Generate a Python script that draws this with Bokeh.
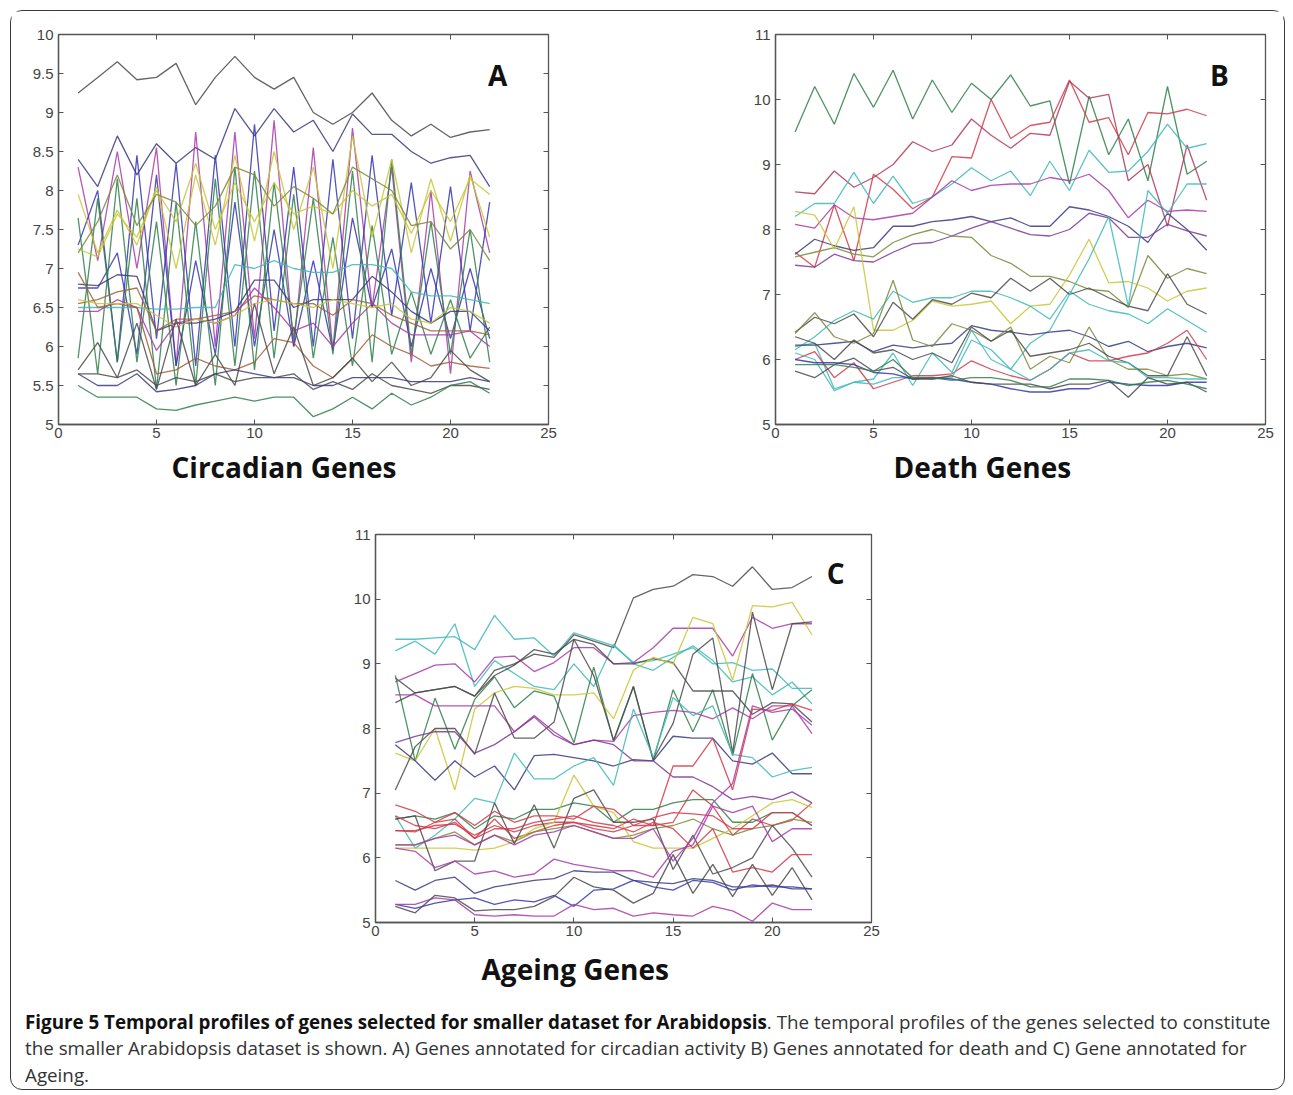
from bokeh.plotting import figure
from bokeh.layouts import column, row
from bokeh.models import (Div, Label, LinearAxis, FixedTicker, CustomJSTickFormatter, Range1d, Title)
from bokeh.embed import file_html
from bokeh.resources import INLINE

# ---------------- data ----------------
timepoints = [1, 2, 3, 4, 5, 6, 7, 8, 9, 10, 11, 12, 13, 14, 15, 16, 17, 18, 19, 20, 21, 22]

x_ticks = [0, 5, 10, 15, 20, 25]
a_y_ticks = [5, 5.5, 6, 6.5, 7, 7.5, 8, 8.5, 9, 9.5, 10]
bc_y_ticks = [5, 6, 7, 8, 9, 10, 11]

BLUE = "#3535b0"
GREEN = "#2f7f4a"
RED = "#d23a48"
CYAN = "#3fb8b8"
MAGENTA = "#a83aa8"
YELLOW = "#c9c634"
GRAY = "#4a4a4a"
NAVY = "#3a3a80"
OLIVE = "#7a8a3a"
BROWN = "#a0603a"

# Panel A - circadian genes
a_top = [9.25, 9.45, 9.65, 9.42, 9.45, 9.63, 9.1, 9.45, 9.72, 9.45, 9.3, 9.45, 9.0, 8.85, 9.0, 9.25, 8.9, 8.7, 8.85, 8.68, 8.75, 8.78]
a_navy_high = [8.4, 8.05, 8.7, 8.2, 8.6, 8.35, 8.55, 8.4, 9.05, 8.7, 9.05, 8.75, 8.9, 8.5, 8.98, 8.72, 8.72, 8.5, 8.35, 8.42, 8.45, 8.05]
a_magenta_zig = [8.3, 7.1, 8.5, 7.0, 8.55, 5.75, 8.75, 6.0, 8.75, 6.1, 8.9, 6.0, 8.55, 5.95, 8.8, 6.5, 8.3, 5.8, 8.0, 5.65, 8.25, 7.2]
a_blue_zig = [7.3, 8.0, 5.8, 8.45, 6.1, 8.35, 5.75, 8.45, 6.0, 8.85, 6.2, 8.3, 6.0, 8.4, 6.1, 8.45, 6.4, 8.1, 6.3, 8.05, 6.2, 7.85]
a_blue_zig2 = [6.75, 6.75, 7.2, 5.9, 8.2, 5.75, 7.1, 5.9, 7.85, 6.0, 7.5, 6.0, 7.1, 5.95, 7.65, 6.5, 7.25, 6.0, 7.0, 6.1, 7.0, 6.1]
a_green_zig = [5.85, 7.9, 5.8, 7.9, 5.45, 7.85, 5.5, 8.15, 5.75, 8.25, 5.85, 7.95, 5.85, 7.4, 5.75, 7.55, 5.9, 6.7, 5.9, 6.6, 5.85, 6.25]
a_green_zig2 = [7.65, 5.65, 8.15, 5.8, 7.6, 5.5, 7.6, 5.5, 8.3, 5.7, 8.1, 6.1, 7.9, 5.9, 8.25, 5.8, 8.4, 5.9, 7.6, 5.9, 7.5, 5.8]
a_yellow_zig = [7.95, 7.2, 7.75, 7.3, 8.05, 7.0, 8.2, 7.3, 8.45, 7.35, 8.5, 7.5, 8.3, 7.0, 8.7, 7.4, 8.4, 7.2, 8.15, 7.35, 8.2, 7.4]
a_yellow = [7.25, 7.15, 7.7, 7.4, 8.0, 7.6, 8.35, 7.5, 8.1, 7.6, 8.1, 7.7, 7.8, 7.7, 8.0, 7.8, 7.95, 7.45, 8.0, 7.6, 8.15, 7.95]
a_olive = [7.2, 7.6, 8.2, 7.55, 7.95, 7.85, 7.55, 7.8, 8.3, 8.2, 7.8, 8.05, 7.9, 7.7, 8.3, 8.15, 8.0, 7.55, 7.6, 7.25, 7.5, 7.1]
a_cyan = [6.5, 6.5, 6.5, 6.5, 6.48, 6.48, 6.5, 6.5, 7.05, 7.0, 7.1, 7.0, 6.95, 6.95, 7.05, 7.05, 7.0, 6.7, 6.65, 6.65, 6.6, 6.55]
a_navy_mid = [6.8, 6.78, 6.92, 6.9, 6.2, 6.3, 6.3, 6.35, 6.45, 6.85, 6.85, 6.5, 6.6, 6.6, 6.6, 6.9, 6.7, 6.45, 6.3, 6.45, 6.45, 6.2]
a_brown = [6.55, 6.6, 6.7, 6.75, 6.2, 6.35, 6.35, 6.4, 6.45, 6.65, 6.6, 6.55, 6.55, 6.4, 6.6, 6.55, 6.4, 6.3, 6.2, 6.2, 6.2, 6.15]
a_rose = [6.45, 6.45, 6.6, 6.5, 5.95, 6.3, 6.35, 6.3, 6.4, 6.75, 6.5, 6.2, 6.3, 6.0, 6.3, 6.55, 6.3, 6.15, 6.15, 6.15, 6.2, 6.0]
a_red_low = [6.95, 6.5, 6.55, 6.5, 5.65, 5.7, 5.85, 5.75, 5.7, 5.8, 6.1, 6.05, 5.75, 5.6, 5.85, 6.15, 6.0, 5.9, 5.75, 5.8, 5.75, 5.72]
a_olive_mid = [6.6, 6.55, 6.55, 6.55, 6.4, 6.25, 6.35, 6.3, 6.4, 6.55, 6.6, 6.55, 6.5, 6.6, 6.55, 6.5, 6.55, 6.35, 6.3, 6.5, 6.45, 6.3]
a_gray_zig = [5.7, 6.05, 5.6, 6.3, 5.45, 6.35, 5.5, 5.9, 5.5, 6.55, 5.65, 6.25, 5.5, 5.6, 5.85, 5.55, 5.8, 5.5, 5.6, 5.95, 5.7, 5.55]
a_navy_low = [5.65, 5.5, 5.5, 5.65, 5.42, 5.45, 5.5, 5.65, 5.7, 5.65, 5.6, 5.6, 5.5, 5.5, 5.6, 5.6, 5.6, 5.55, 5.55, 5.55, 5.6, 5.55]
a_gray_low = [5.65, 5.65, 5.6, 5.7, 5.5, 5.6, 5.55, 5.65, 5.55, 5.6, 5.6, 5.65, 5.45, 5.55, 5.45, 5.65, 5.5, 5.45, 5.4, 5.5, 5.5, 5.45]
a_green_low = [5.5, 5.35, 5.35, 5.35, 5.2, 5.18, 5.25, 5.3, 5.35, 5.3, 5.35, 5.35, 5.1, 5.2, 5.35, 5.2, 5.4, 5.25, 5.35, 5.5, 5.55, 5.4]

panel_a = [
    (a_top, GRAY), (a_navy_high, NAVY), (a_magenta_zig, MAGENTA), (a_blue_zig, BLUE),
    (a_blue_zig2, BLUE), (a_green_zig, GREEN), (a_green_zig2, GREEN), (a_yellow_zig, YELLOW),
    (a_yellow, YELLOW), (a_olive, OLIVE), (a_cyan, CYAN), (a_navy_mid, NAVY), (a_brown, BROWN),
    (a_rose, MAGENTA), (a_red_low, BROWN), (a_olive_mid, YELLOW), (a_gray_zig, GRAY),
    (a_navy_low, NAVY), (a_gray_low, GRAY), (a_green_low, GREEN),
]

# Panel B - death genes
b_green_top = [9.5, 10.2, 9.62, 10.4, 9.88, 10.45, 9.7, 10.3, 9.8, 10.25, 10.0, 10.38, 9.9, 9.98, 8.7, 10.05, 9.15, 9.7, 8.75, 10.2, 8.85, 9.05]
b_red_rise = [7.65, 7.42, 8.38, 7.52, 8.85, 8.62, 8.32, 8.5, 9.12, 9.1, 10.0, 9.4, 9.6, 9.65, 10.3, 9.65, 9.72, 9.15, 9.8, 9.78, 9.85, 9.75]
b_darkred = [8.58, 8.55, 8.9, 8.65, 8.8, 9.0, 9.35, 9.2, 9.3, 9.7, 9.45, 9.25, 9.48, 9.45, 10.28, 10.02, 10.08, 8.75, 9.0, 8.05, 9.3, 8.45]
b_cyan_high = [8.2, 8.4, 8.4, 8.88, 8.4, 8.82, 8.4, 8.5, 8.7, 8.95, 8.75, 8.9, 8.52, 9.05, 8.6, 9.22, 8.88, 8.9, 9.2, 9.62, 9.25, 9.32]
b_purple_high = [8.08, 8.02, 8.38, 8.18, 8.15, 8.2, 8.25, 8.5, 8.75, 8.6, 8.68, 8.7, 8.7, 8.8, 8.75, 8.85, 8.6, 8.18, 8.45, 8.28, 8.3, 8.28]
b_navy = [7.62, 7.85, 7.75, 7.68, 7.72, 8.05, 8.05, 8.12, 8.15, 8.2, 8.12, 8.18, 8.05, 8.05, 8.35, 8.3, 8.2, 8.05, 7.8, 8.25, 8.0, 7.68]
b_purple = [7.45, 7.42, 7.62, 7.52, 7.5, 7.65, 7.78, 7.8, 7.9, 8.02, 8.12, 8.02, 7.92, 7.9, 8.0, 8.25, 8.18, 7.88, 7.88, 8.08, 7.98, 7.9]
b_olive = [7.58, 7.65, 7.72, 7.62, 7.58, 7.8, 7.92, 8.0, 7.9, 7.88, 7.6, 7.48, 7.28, 7.28, 7.2, 7.08, 7.05, 6.8, 7.6, 7.25, 7.4, 7.32]
b_yellow = [8.28, 8.22, 7.7, 8.35, 6.45, 6.45, 6.6, 6.9, 6.82, 6.85, 6.9, 6.55, 6.82, 6.85, 7.3, 7.85, 7.18, 7.2, 7.1, 6.9, 7.05, 7.1]
b_cyan_mid = [6.15, 6.35, 6.6, 6.75, 6.62, 7.05, 6.88, 6.95, 6.95, 7.05, 7.05, 6.95, 6.82, 6.62, 7.05, 6.85, 6.75, 6.7, 6.55, 6.78, 6.6, 6.42]
b_gray_mid = [6.42, 6.65, 6.55, 6.7, 6.35, 6.88, 6.62, 6.92, 6.85, 7.02, 6.95, 7.25, 7.05, 7.25, 7.0, 7.1, 6.95, 6.82, 6.75, 7.32, 6.85, 6.7]
b_cyan_spike = [6.2, 6.25, 5.55, 5.65, 5.7, 6.1, 5.6, 6.1, 5.8, 6.45, 6.0, 5.85, 6.25, 6.45, 7.0, 7.55, 8.2, 6.82, 8.6, 8.25, 8.7, 8.7]
b_navy_flat = [6.22, 6.22, 6.25, 6.28, 6.12, 6.22, 6.18, 6.22, 6.25, 6.52, 6.45, 6.42, 6.38, 6.42, 6.45, 6.35, 6.2, 6.28, 6.12, 6.2, 6.25, 6.18]
b_olive_zig = [6.4, 6.72, 6.35, 6.25, 6.4, 7.22, 6.3, 6.2, 6.55, 6.45, 6.28, 6.5, 5.85, 6.05, 5.95, 6.5, 6.0, 5.85, 5.85, 5.75, 5.78, 5.7]
b_gray_low = [6.35, 6.25, 6.0, 6.3, 6.1, 6.15, 6.0, 6.1, 5.95, 6.5, 6.28, 6.45, 6.05, 6.1, 6.15, 6.25, 6.05, 5.95, 5.75, 5.75, 6.35, 5.75]
b_red_low = [6.0, 6.12, 5.72, 5.95, 5.55, 5.65, 5.75, 5.75, 5.78, 5.98, 5.85, 5.75, 5.68, 5.85, 6.1, 5.98, 5.98, 6.05, 6.1, 6.25, 6.45, 6.0]
b_teal_low = [6.1, 6.0, 5.52, 5.65, 5.62, 5.72, 5.72, 5.7, 5.72, 6.3, 6.15, 5.85, 5.68, 5.85, 6.1, 6.15, 5.98, 5.95, 5.72, 5.72, 5.7, 5.7]
b_navy_bottom = [6.0, 5.95, 5.95, 5.92, 5.8, 5.78, 5.7, 5.72, 5.7, 5.65, 5.62, 5.55, 5.5, 5.5, 5.55, 5.55, 5.65, 5.62, 5.6, 5.6, 5.65, 5.65]
b_gray_bottom = [5.82, 5.72, 5.92, 6.02, 5.82, 5.88, 5.7, 5.7, 5.75, 5.65, 5.62, 5.62, 5.62, 5.55, 5.62, 5.62, 5.68, 5.42, 5.72, 5.62, 5.65, 5.5]
b_green_bottom = [5.92, 5.92, 5.92, 5.88, 5.82, 6.0, 5.72, 5.72, 5.68, 5.72, 5.72, 5.68, 5.58, 5.58, 5.7, 5.7, 5.68, 5.6, 5.65, 5.68, 5.62, 5.55]

panel_b = [
    (b_green_top, GREEN), (b_red_rise, RED), (b_darkred, "#b03a5a"), (b_cyan_high, CYAN),
    (b_purple_high, MAGENTA), (b_navy, NAVY), (b_purple, "#7a3a90"), (b_olive, OLIVE),
    (b_yellow, YELLOW), (b_cyan_mid, CYAN), (b_gray_mid, GRAY), (b_cyan_spike, CYAN),
    (b_navy_flat, NAVY), (b_olive_zig, OLIVE), (b_gray_low, GRAY), (b_red_low, RED),
    (b_teal_low, CYAN), (b_navy_bottom, BLUE), (b_gray_bottom, GRAY), (b_green_bottom, GREEN),
]

# Panel C - ageing genes
c_gray_top = [8.78, 8.55, 8.6, 8.65, 8.5, 8.9, 9.0, 9.15, 9.1, 9.45, 9.35, 9.25, 10.02, 10.15, 10.2, 10.38, 10.35, 10.2, 10.5, 10.15, 10.18, 10.35]
c_teal_top = [9.38, 9.38, 9.4, 9.42, 9.22, 9.75, 9.38, 9.4, 9.12, 9.48, 9.38, 9.28, 9.02, 9.05, 9.15, 9.25, 9.0, 9.02, 8.9, 8.92, 8.62, 8.62]
c_cyan = [9.2, 9.35, 9.15, 9.62, 8.65, 9.05, 8.85, 8.65, 8.6, 9.0, 8.65, 9.3, 9.0, 8.9, 9.1, 9.28, 9.05, 8.72, 8.8, 8.52, 8.72, 8.38]
c_magenta = [8.72, 8.85, 8.98, 9.0, 8.72, 9.1, 9.12, 8.88, 9.02, 9.25, 9.25, 9.0, 9.02, 9.25, 9.55, 9.55, 9.55, 9.12, 9.72, 9.55, 9.62, 9.62]
c_green_zig = [8.82, 7.5, 8.47, 7.68, 8.45, 8.8, 8.32, 8.58, 8.5, 7.78, 8.95, 7.8, 8.65, 7.5, 8.6, 7.95, 8.6, 7.58, 8.85, 7.82, 8.35, 8.6]
c_gray_high = [8.4, 8.55, 8.6, 8.65, 8.5, 8.82, 8.98, 9.22, 9.15, 9.38, 9.3, 9.0, 9.0, 9.08, 9.02, 8.58, 8.58, 8.58, 8.22, 8.4, 8.38, 8.1]
c_yellow = [7.62, 7.5, 8.0, 7.05, 8.3, 8.55, 8.65, 8.62, 8.52, 8.52, 8.55, 8.15, 8.9, 9.1, 9.0, 9.72, 9.62, 8.75, 9.9, 9.88, 9.95, 9.45]
c_magenta2 = [8.52, 8.52, 8.35, 8.35, 8.35, 8.35, 7.95, 8.2, 7.95, 7.75, 7.82, 7.8, 8.2, 8.25, 8.28, 8.25, 8.15, 8.32, 8.15, 8.35, 8.35, 7.92]
c_gray_zig = [7.05, 7.72, 8.0, 8.0, 7.6, 8.55, 7.85, 7.85, 8.1, 9.38, 8.82, 7.82, 8.65, 7.52, 8.08, 9.15, 9.4, 7.62, 9.8, 8.6, 9.62, 9.65]
c_navy = [7.75, 7.5, 7.2, 7.5, 7.25, 7.42, 7.05, 7.58, 7.6, 7.55, 7.5, 7.42, 7.52, 7.5, 7.88, 7.85, 7.85, 7.5, 7.45, 7.62, 7.3, 7.3]
c_purple = [7.78, 7.88, 7.95, 7.95, 7.62, 7.75, 7.95, 8.18, 7.9, 7.75, 7.82, 7.75, 7.5, 7.5, 7.25, 7.25, 7.1, 6.9, 6.95, 6.9, 7.02, 6.85]
c_teal_mid = [6.65, 6.15, 6.35, 6.6, 6.92, 6.85, 7.62, 7.22, 7.22, 7.42, 7.55, 7.12, 8.3, 7.55, 8.48, 8.2, 8.35, 7.6, 7.55, 7.25, 7.35, 7.4]
c_red_rise = [6.42, 6.42, 6.5, 6.52, 6.35, 6.5, 6.4, 6.5, 6.55, 6.55, 6.45, 6.4, 6.5, 6.5, 7.42, 7.42, 7.85, 7.05, 8.3, 8.28, 8.38, 8.28]
c_red2 = [6.42, 6.4, 6.55, 6.6, 6.3, 6.6, 6.3, 6.4, 6.5, 6.55, 6.5, 6.45, 6.6, 6.5, 6.55, 7.05, 6.8, 6.35, 6.6, 6.5, 6.58, 6.85]
c_green_cl = [6.6, 6.65, 6.6, 6.7, 6.45, 6.65, 6.6, 6.75, 6.75, 6.85, 6.8, 6.55, 6.75, 6.75, 6.85, 6.9, 6.9, 6.55, 6.55, 6.7, 6.7, 6.5]
c_olive_cl = [6.2, 6.2, 6.3, 6.4, 6.2, 6.35, 6.25, 6.4, 6.45, 6.5, 6.4, 6.3, 6.35, 6.45, 6.5, 6.6, 6.45, 6.35, 6.45, 6.5, 6.6, 6.55]
c_yellow_low = [6.15, 6.15, 6.15, 6.15, 6.12, 6.15, 6.25, 6.45, 6.55, 7.28, 6.8, 6.7, 6.25, 6.15, 6.15, 6.15, 6.3, 6.45, 6.65, 6.85, 6.9, 6.78]
c_gray_mid = [6.6, 6.65, 5.8, 5.95, 5.95, 6.85, 6.22, 6.82, 6.15, 6.92, 7.05, 6.55, 6.55, 6.6, 5.82, 6.35, 5.75, 5.85, 6.0, 6.5, 6.15, 5.7]
c_purple_low = [6.15, 6.1, 5.85, 5.95, 5.75, 5.8, 5.7, 5.75, 5.98, 5.9, 5.85, 5.8, 5.8, 5.7, 6.1, 6.2, 6.8, 6.7, 6.8, 6.25, 6.45, 6.45]
c_red_mid = [6.82, 6.72, 6.55, 6.7, 6.5, 6.72, 6.55, 6.65, 6.65, 6.6, 6.8, 6.75, 6.5, 6.62, 6.7, 6.68, 6.65, 6.45, 6.45, 6.7, 6.7, 6.5]
c_red_fall = [6.65, 6.5, 6.45, 6.55, 6.3, 6.45, 6.45, 6.55, 6.6, 6.65, 6.55, 6.5, 6.4, 6.55, 6.45, 6.15, 6.45, 5.78, 5.85, 5.78, 6.05, 6.05]
c_magenta_rise = [6.2, 6.2, 6.3, 6.35, 6.2, 6.35, 6.2, 6.35, 6.4, 6.5, 6.4, 6.3, 6.3, 6.45, 5.95, 6.3, 6.85, 7.15, 8.35, 8.25, 8.3, 8.05]
c_navy_low = [5.65, 5.5, 5.65, 5.7, 5.45, 5.55, 5.6, 5.65, 5.68, 5.8, 5.78, 5.78, 5.65, 5.62, 5.6, 5.68, 5.65, 5.55, 5.55, 5.58, 5.52, 5.52]
c_blue_low = [5.28, 5.22, 5.3, 5.35, 5.38, 5.28, 5.35, 5.32, 5.42, 5.25, 5.5, 5.52, 5.65, 5.55, 5.5, 5.65, 5.62, 5.5, 5.58, 5.55, 5.55, 5.52]
c_purple_bottom = [5.28, 5.28, 5.38, 5.35, 5.12, 5.1, 5.12, 5.1, 5.1, 5.28, 5.2, 5.22, 5.1, 5.15, 5.12, 5.1, 5.25, 5.18, 5.02, 5.3, 5.2, 5.2]
c_gray_bottom = [5.25, 5.15, 5.42, 5.38, 5.18, 5.2, 5.2, 5.25, 5.4, 5.7, 5.55, 5.5, 5.3, 5.45, 6.05, 5.45, 5.9, 5.4, 5.9, 5.42, 5.85, 5.35]

panel_c = [
    (c_gray_top, GRAY), (c_teal_top, CYAN), (c_cyan, CYAN), (c_magenta, MAGENTA),
    (c_green_zig, GREEN), (c_gray_high, GRAY), (c_yellow, YELLOW), (c_magenta2, MAGENTA),
    (c_gray_zig, GRAY), (c_navy, NAVY), (c_purple, "#7a3a90"), (c_teal_mid, CYAN),
    (c_red_rise, RED), (c_red2, RED), (c_green_cl, GREEN), (c_olive_cl, OLIVE),
    (c_yellow_low, YELLOW), (c_gray_mid, GRAY), (c_purple_low, MAGENTA), (c_red_mid, RED),
    (c_red_fall, RED), (c_magenta_rise, MAGENTA), (c_navy_low, NAVY), (c_blue_low, BLUE),
    (c_purple_bottom, MAGENTA), (c_gray_bottom, GRAY),
]

AXIS_COLOR = "#555555"
TICK_FONT = "Liberation Sans"


def make_panel(series, y_ticks, y_end, width, height, borders, letter, letter_xy,
               title, title_offset, title_standoff):
    left, right, top, bottom = borders
    p = figure(width=width, height=height, output_backend="svg", toolbar_location=None,
               x_range=Range1d(0, 25), y_range=Range1d(5, y_end),
               min_border_left=left, min_border_right=right,
               min_border_top=top, min_border_bottom=bottom)
    p.background_fill_color = "white"
    p.border_fill_color = "white"
    p.outline_line_color = AXIS_COLOR
    p.outline_line_width = 1.3
    p.grid.visible = False
    fmt = CustomJSTickFormatter(code="return tick.toString();")
    blank = CustomJSTickFormatter(code="return '';")
    for ax, ticks in ((p.xaxis[0], x_ticks), (p.yaxis[0], y_ticks)):
        ax.ticker = FixedTicker(ticks=ticks)
        ax.formatter = fmt
        ax.major_tick_in = 5
        ax.major_tick_out = 0
        ax.minor_tick_line_color = None
        ax.axis_line_color = AXIS_COLOR
        ax.axis_line_width = 1.3
        ax.major_tick_line_color = AXIS_COLOR
        ax.major_label_text_font = TICK_FONT
        ax.major_label_text_font_size = "15px"
        ax.major_label_text_color = "#444444"
    p.xaxis[0].major_label_standoff = 3
    p.yaxis[0].major_label_standoff = 5
    for place, ticks in (("above", x_ticks), ("right", y_ticks)):
        ax = LinearAxis(ticker=FixedTicker(ticks=ticks), formatter=blank,
                        major_tick_in=5, major_tick_out=0, minor_tick_line_color=None,
                        axis_line_color=AXIS_COLOR, major_tick_line_color=AXIS_COLOR,
                        major_label_standoff=0, major_label_text_font_size="1px")
        p.add_layout(ax, place)
    for ys, col in series:
        p.line(timepoints, ys, line_color=col, line_width=1.3, line_alpha=0.85)
    p.add_layout(Label(x=letter_xy[0], y=letter_xy[1], text=letter, text_font="Open Sans",
                       text_font_style="bold", text_font_size="28px", text_color="#111111",
                       text_align="center", text_baseline="middle"))
    p.add_layout(Title(text=title, align="left", offset=title_offset, standoff=title_standoff,
                       text_font="Open Sans", text_font_style="bold", text_font_size="28px",
                       text_color="#111111"), "below")
    return p


pa = make_panel(panel_a, a_y_ticks, 10, 730, 490, (47, 193, 23, 77), "A", (22.4, 9.48),
                "Circadian Genes", 113, 10)
pb = make_panel(panel_b, bc_y_ticks, 11, 542, 490, (34, 18, 23, 77), "B", (22.65, 10.38),
                "Death Genes", 118, 10)
pc = make_panel(panel_c, bc_y_ticks, 11, 900, 500, (364, 40, 33, 79), "C", (23.2, 10.40),
                "Ageing Genes", 106, 18)

caption_html = (
    "<div style=\"font-family:'Open Sans';font-size:18.8px;line-height:26.3px;color:#333333;"
    "padding:3px 0 0 9px;white-space:nowrap\">"
    "<b style='color:#111111'>Figure 5 Temporal profiles of genes selected for smaller dataset for Arabidopsis</b>."
    " The temporal profiles of the genes selected to constitute<br>"
    "the smaller Arabidopsis dataset is shown. A) Genes annotated for circadian activity B) Genes annotated for death and C) Gene annotated for<br>"
    "Ageing.</div>"
)
cap = Div(text=caption_html, width=1262, height=87)

layout = column(row(pa, pb), pc, cap, margin=(10, 0, 0, 10), width=1275, height=1080,
                styles={"border": "1.5px solid #3a3a3a", "border-radius": "12px",
                        "background-color": "white"})

open("out.html", "w").write(file_html(layout, INLINE))
